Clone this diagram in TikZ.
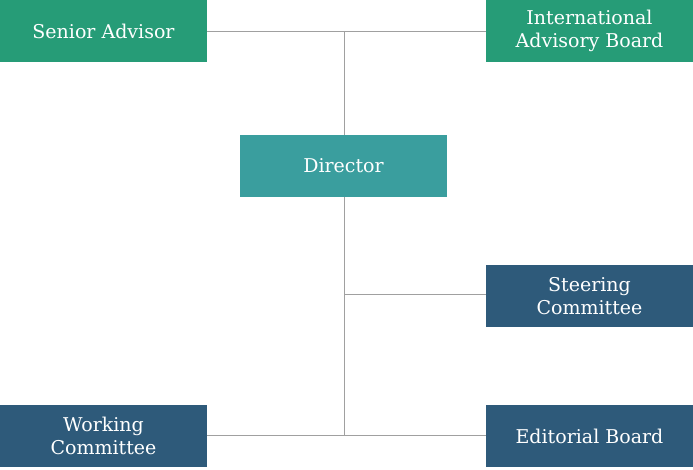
\documentclass[tikz,border=0pt]{standalone}
\usepackage{fontspec}
\setmainfont{DejaVu Serif}
\definecolor{cgreen}{HTML}{269C77}
\definecolor{cteal}{HTML}{3A9E9E}
\definecolor{cblue}{HTML}{2E5A7A}
\definecolor{cline}{HTML}{A0A0A0}
\begin{document}
\begin{tikzpicture}[x=1pt,y=-1pt,
  box/.style={minimum width=207pt,minimum height=62pt,inner sep=0pt,text=white,
    align=center,font=\fontsize{19}{23}\selectfont},
  conn/.style={draw=cline,line width=0.8pt}]
\useasboundingbox (0,0) rectangle (693,470);
\node[box,fill=cgreen] (sa) at (103.5,31) {Senior Advisor};
\node[box,fill=cgreen] (iab) at (589.5,31) {International\\Advisory Board};
\node[box,fill=cteal] (dir) at (343.5,166) {Director};
\node[box,fill=cblue] (sc) at (589.5,296) {Steering\\Committee};
\node[box,fill=cblue] (wc) at (103.5,436) {Working\\Committee};
\node[box,fill=cblue] (eb) at (589.5,436) {Editorial Board};
\coordinate (top) at (344,31);
\coordinate (mid) at (344,294);
\coordinate (bot) at (344,435);
\draw[conn] (sa.east |- top) -- (iab.west |- top);
\draw[conn] (top) -- (top |- dir.north);
\draw[conn] (top |- dir.south) -- (bot);
\draw[conn] (mid) -- (sc.west |- mid);
\draw[conn] (wc.east |- bot) -- (eb.west |- bot);
\end{tikzpicture}
\end{document}
